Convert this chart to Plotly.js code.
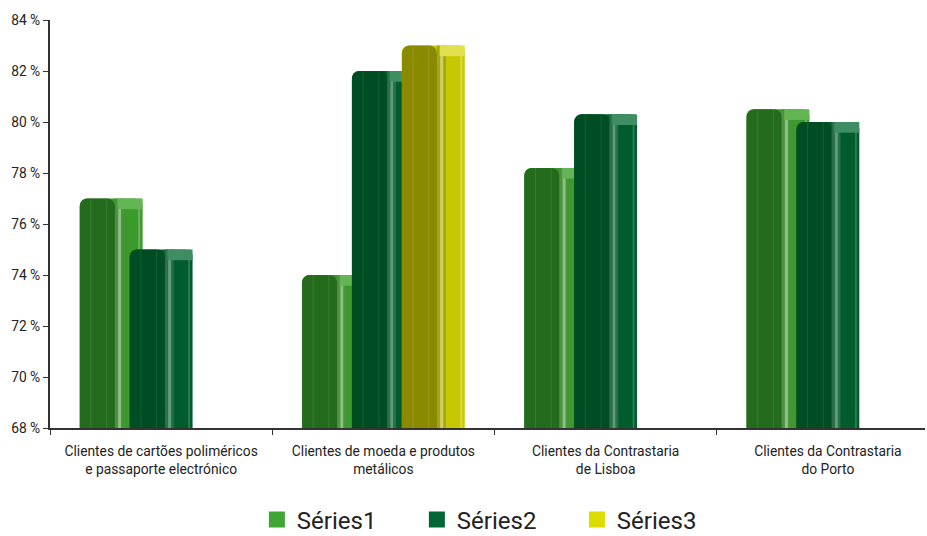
<!DOCTYPE html>
<html>
<head>
<meta charset="utf-8">
<script src="https://cdn.plot.ly/plotly-3.0.1.min.js"></script>
<style>html,body{margin:0;padding:0;background:#fff;}#chart{width:927px;height:536px;}</style>
</head>
<body>
<div id="chart"></div>
<script>
// ---- data ----
const categories = [
  "Clientes de cartões poliméricos<br>e passaporte electrónico",
  "Clientes de moeda e produtos<br>metálicos",
  "Clientes da Contrastaria<br>de Lisboa",
  "Clientes da Contrastaria<br>do Porto"
];
const seriesNames = ["Séries1", "Séries2", "Séries3"];
const serie1 = [77.0, 74.0, 78.2, 80.5];
const serie2 = [75.0, 82.0, 80.3, 80.0];
const serie3 = [null, 83.0, null, null];

// ---- style ----
const W = 0.283;            // bar width in category units
const STEP = 0.2247;        // distance between bar centres
const CAP = 0.42;           // height of the lighter top band (in %)
const palettes = [
  {legend:"#3fa535", right:"#3b9a2b", dark:"#256b1e", mid:"#4f8f46", light:"#8cc27f", cap:"#63b453", hi:"#6fb463", line:"#3a7f32"},
  {legend:"#006633", right:"#005c2c", dark:"#004d23", mid:"#2b6f47", light:"#5f9c7c", cap:"#3f8d63", hi:"#2f7a50", line:"#15603a"},
  {legend:"#dcdc00", right:"#c8c800", dark:"#8a8a00", mid:"#a3a31c", light:"#cfcf66", cap:"#e0e050", hi:"#dada55", line:"#9a9a20"}
];
const allSeries = [serie1, serie2, serie3];

const traces = [];
function layer(vals, sIdx, from, to, color, extra) {
  const off = (sIdx - 1) * STEP - W / 2;
  const t = Object.assign({
    type: "bar", x: categories, y: vals,
    offset: off + from * W, width: (to - from) * W,
    marker: {color: color, line: {width: 0}},
    showlegend: false, hoverinfo: "skip"
  }, extra || {});
  traces.push(t);
}
allSeries.forEach((vals, i) => {
  const p = palettes[i];
  layer(vals, i, 0, 1, p.right, {marker: {color: p.right, cornerradius: 7, line: {width: 0}}, name: seriesNames[i], hoverinfo: "y"});
  layer(vals, i, 0, 0.56, p.dark, {marker: {color: p.dark, cornerradius: 8, line: {width: 0}}});
  layer(vals, i, 0.17, 0.185, p.line);
  layer(vals, i, 0.42, 0.435, p.line);
  layer(vals, i, 0.56, 0.61, p.mid);
  layer(vals, i, 0.61, 0.66, p.light);
  layer(vals, i, 0.66, 0.70, p.mid);
  layer(vals, i, 0.93, 0.96, p.hi);
  layer(vals.map(v => v == null ? null : CAP), i, 0.60, 1.0, p.cap,
        {base: vals.map(v => v == null ? null : v - CAP)});
});
allSeries.forEach((vals, i) => {
  traces.push({
    type: "scatter", mode: "markers", x: categories, y: vals, yaxis: "y2",
    name: seriesNames[i], showlegend: true, hoverinfo: "skip",
    marker: {symbol: "square", size: 17, color: palettes[i].legend}
  });
});

const layout = {
  width: 927, height: 536,
  margin: {l: 50, r: 2, t: 20, b: 108},
  paper_bgcolor: "#fff", plot_bgcolor: "#fff",
  barmode: "overlay",
  font: {family: "Roboto, 'DejaVu Sans', sans-serif", size: 13, color: "#222"},
  xaxis: {
    type: "category", range: [-0.5, 3.437],
    showline: true, linecolor: "#333", linewidth: 2,
    ticks: "outside", ticklen: 5, tickcolor: "#333", tickwidth: 1,
    tickson: "boundaries", showgrid: false, zeroline: false,
    ticklabelstandoff: 9,
    tickfont: {size: 13.8, color: "#222"}
  },
  yaxis: {
    range: [68, 84], dtick: 2, ticksuffix: " %",
    showline: true, linecolor: "#333", linewidth: 2,
    ticks: "outside", ticklen: 5, tickcolor: "#333",
    showgrid: false, zeroline: false,
    tickfont: {size: 13.8, color: "#222"}
  },
  yaxis2: {overlaying: "y", range: [1000, 1001], visible: false},
  legend: {
    orientation: "h", xref: "container", yref: "container",
    x: 0.536, xanchor: "center", y: 0.03, yanchor: "middle",
    font: {size: 24, color: "#222"}, entrywidth: 115, traceorder: "normal"
  },
  showlegend: true
};

Plotly.newPlot("chart", traces, layout, {displayModeBar: false, staticPlot: true});
</script>
</body>
</html>
